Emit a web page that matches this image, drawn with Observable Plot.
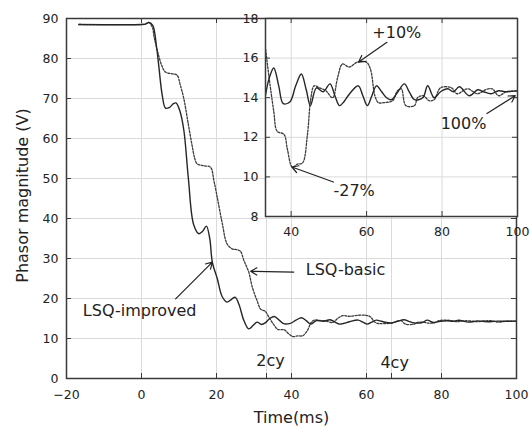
<!DOCTYPE html>
<html><head><meta charset="utf-8">
<script src="https://cdn.jsdelivr.net/npm/d3@7"></script>
<script src="https://cdn.jsdelivr.net/npm/@observablehq/plot@0.6"></script>
<style>
body{margin:0;background:#fff;}
#wrap{position:relative;width:530px;height:427px;overflow:hidden;background:#fff;}
#main{position:absolute;left:0;top:0;}
#inset{position:absolute;left:230px;top:8px;}
svg{overflow:visible;}
</style></head><body><div id="wrap"><div id="main"></div><div id="inset"></div></div>
<script>
// ---- data ----
const timeImproved = [-16.7,0,1,2,3,4,4.6,5.5,6.4,7.5,8.5,9.2,10.2,11.3,12.5,13.9,15.3,16.3,17.3,18.2,18.9,20.2,21.5,22.8,24,25,26,27.3,28.6,29.8,30.8,32,33,34.2,35.4,36.7,37.9,39.7,41.2,42.7,44,45.1,46.7,48.5,50.3,51.6,52.8,54,55.5,57.8,59,60.2,61.4,62.6,64,65.3,66.6,68.3,70,71.3,72.7,74.9,76.2,77.9,79.6,81.5,83,84.6,87.2,89.5,91,93,95,97,100];
const valImproved = [88.5,88.5,88.6,89.0,88.3,83,78.2,71,67.6,67.8,68.7,68.9,67,62,50,38.5,36.2,36.8,38.1,35,29,25,20.5,19.1,19.8,20.3,18.5,14.5,12.4,13.3,14.1,13.5,13.9,15.0,15.5,14.6,13.7,13.8,14.6,15.2,14.4,13.6,14.5,14.3,14.7,14.1,13.6,13.8,14.2,14.6,14.1,13.6,14.1,14.6,14.3,14.0,13.9,14.3,14.7,14.3,13.9,14.0,14.6,14.0,14.3,14.45,14.3,14.55,14.1,14.4,14.3,14.2,14.35,14.3,14.35];
const timeBasic = [-16.7,0,1,2,3,3.3,4.5,5.5,6.4,8,9.5,10.3,11.3,12.4,13.5,14.2,14.8,16.5,18.4,19.3,20.2,21.5,22.8,24.2,25.5,26.4,27.3,28.6,29.5,30.8,31.8,33,34.1,35.4,36.3,38.1,39,40.3,41.7,43,44.3,45.2,46.1,47.5,49.2,51,52.3,53.6,55.4,57.6,59.9,61,62.2,63.1,64.5,66.9,68.2,69.2,70.4,72.7,73.5,75,76.6,77.9,79.6,82.5,84,86.7,89.4,91.5,93.3,95,97,100];
const valBasic = [88.5,88.5,88.6,89.0,87.5,85.7,81,78,76.6,76.2,75.8,73.5,69.9,64,58.2,55,53.7,53.2,52.8,49.5,45.3,39,33.7,32.4,32.2,31.8,29.5,26.6,23,19.5,17.3,16.8,15.1,13.3,12.3,12.15,11.4,10.5,10.65,10.7,12.1,13.95,14.6,14.5,14.35,14.0,15.0,15.7,15.55,15.8,15.8,15.45,14.1,13.75,13.75,13.85,14.35,14.45,13.6,13.6,14.0,14.1,13.85,13.9,14.5,14.5,14.2,14.45,14.2,14.4,14.45,14.1,14.3,14.35];

const xTicks = [-20,0,20,40,60,80,100];
const cycleTicks = [100/3, 200/3];          // 2cy, 4cy markers
const yTicks = [0,10,20,30,40,50,60,70,80,90];
const insetXTicks = [40,60,80,100];
const insetYTicks = [8,10,12,14,16,18];

const mainLabels = ["LSQ-improved","LSQ-basic","2cy","4cy"];
const mainLabelX = [-0.5,54.4,34.4,67.5];
const mainLabelY = [17,27.2,4.5,3.8];
const mainArrowX1 = [9.1,40.6], mainArrowY1 = [19.9,26.6];
const mainArrowX2 = [18.9,29.1], mainArrowY2 = [29.1,26.8];

const insetLabels = ["+10%","-27%","100%"];
const insetLabelX = [68.0,56.7,85.7];
const insetLabelY = [17.29,9.31,12.68];
const insetArrowX1 = [65.4,51.2,91.9], insetArrowY1 = [16.8,9.74,13.2];
const insetArrowX2 = [57.9,40.2,99.4], insetArrowY2 = [15.8,10.5,14.1];

// ---- tables ----
const improved = timeImproved.map((t,i)=>({t, v: valImproved[i]}));
const basic = timeBasic.map((t,i)=>({t, v: valBasic[i]}));
const mainText = mainLabels.map((s,i)=>({s, x: mainLabelX[i], y: mainLabelY[i]}));
const mainArrows = mainArrowX1.map((x1,i)=>({x1, y1: mainArrowY1[i], x2: mainArrowX2[i], y2: mainArrowY2[i]}));
const insetText = insetLabels.map((s,i)=>({s, x: insetLabelX[i], y: insetLabelY[i]}));
const insetArrows = insetArrowX1.map((x1,i)=>({x1, y1: insetArrowY1[i], x2: insetArrowX2[i], y2: insetArrowY2[i]}));

const FONT = "DejaVu Sans";
const gridColor = "#dadada";
const ink = "#222";
const frameColor = "#3a3a3a";
const dashStyle = {stroke: "#3c3c3c", strokeWidth: 1.3, strokeDasharray: "2,1.5"};
const solidStyle = {stroke: "#262626", strokeWidth: 1.4};

// ---- main plot ----
const W = 530, H = 427, mL = 66, mR = 14, mT = 18, mB = 49;
const pH = H - mT - mB;
const main = Plot.plot({
  width: W, height: H,
  marginLeft: mL, marginRight: mR, marginTop: mT, marginBottom: mB,
  x: {domain: [-20, 100], label: null},
  y: {domain: [0, 90], label: null},
  style: {fontFamily: FONT, fontSize: "12.5px", color: ink, background: "transparent", overflow: "visible"},
  marks: [
    Plot.gridX(xTicks.concat(cycleTicks), {stroke: gridColor, strokeOpacity: 1}),
    Plot.gridY(yTicks, {stroke: gridColor, strokeOpacity: 1}),
    Plot.line(basic, {x: "t", y: "v", curve: "catmull-rom", ...dashStyle}),
    Plot.line(improved, {x: "t", y: "v", curve: "catmull-rom", ...solidStyle}),
    Plot.arrow(mainArrows, {x1: "x1", y1: "y1", x2: "x2", y2: "y2", stroke: ink, strokeWidth: 1.2, headLength: 9}),
    Plot.text(mainText, {x: "x", y: "y", text: "s", fontSize: 16, fill: ink, lineAnchor: "middle"}),
    Plot.frame({stroke: frameColor, strokeWidth: 1.5}),
    Plot.ruleX(xTicks.concat(cycleTicks), {stroke: frameColor, insetTop: pH - 5}),
    Plot.ruleX(xTicks, {stroke: frameColor, insetBottom: pH - 5}),
    Plot.ruleY(yTicks, {stroke: frameColor, insetRight: (W - mL - mR) - 5}),
    Plot.ruleY(yTicks, {stroke: frameColor, insetLeft: (W - mL - mR) - 5}),
    Plot.axisX({ticks: xTicks, tickSize: 0, tickPadding: 12, label: null, fontSize: 12.5}),
    Plot.axisY({ticks: yTicks, tickSize: 0, tickPadding: 8, label: null, fontSize: 12.5}),
    Plot.text(["Time(ms)"], {frameAnchor: "bottom", dy: 39, fontSize: 16, fill: ink, textAnchor: "middle", lineAnchor: "middle"}),
    Plot.text(["Phasor magnitude (V)"], {frameAnchor: "left", dx: -44, dy: -3, rotate: -90, fontSize: 16, fill: ink, textAnchor: "middle", lineAnchor: "middle"})
  ]
});
document.getElementById("main").appendChild(main);

// ---- inset plot ----
const iW = 299, iH = 233, iL = 35, iR = 12, iT = 10, iB = 25;
const ipW = iW - iL - iR, ipH = iH - iT - iB;
const inset = Plot.plot({
  width: iW, height: iH,
  marginLeft: iL, marginRight: iR, marginTop: iT, marginBottom: iB,
  x: {domain: [33.2, 100], label: null},
  y: {domain: [8, 18], label: null},
  style: {fontFamily: FONT, fontSize: "12.5px", color: ink, background: "transparent", overflow: "visible"},
  marks: [
    Plot.frame({fill: "white", stroke: "none"}),
    Plot.gridX(insetXTicks, {stroke: gridColor, strokeOpacity: 1}),
    Plot.gridY(insetYTicks, {stroke: gridColor, strokeOpacity: 1}),
    Plot.line(basic.filter(d => d.t >= 33), {x: "t", y: "v", curve: "catmull-rom", ...dashStyle, clip: true}),
    Plot.line(improved.filter(d => d.t >= 33), {x: "t", y: "v", curve: "catmull-rom", ...solidStyle, clip: true}),
    Plot.arrow(insetArrows, {x1: "x1", y1: "y1", x2: "x2", y2: "y2", stroke: ink, strokeWidth: 1.2, headLength: 9}),
    Plot.text(insetText, {x: "x", y: "y", text: "s", fontSize: 16, fill: ink, lineAnchor: "middle"}),
    Plot.frame({stroke: frameColor, strokeWidth: 1.5}),
    Plot.ruleX(insetXTicks, {stroke: frameColor, insetTop: ipH - 5}),
    Plot.ruleX(insetXTicks, {stroke: frameColor, insetBottom: ipH - 5}),
    Plot.ruleY(insetYTicks, {stroke: frameColor, insetRight: ipW - 5}),
    Plot.ruleY(insetYTicks, {stroke: frameColor, insetLeft: ipW - 5}),
    Plot.axisX({ticks: insetXTicks, tickSize: 0, tickPadding: 11, label: null, fontSize: 12.5}),
    Plot.axisY({ticks: insetYTicks, tickSize: 0, tickPadding: 7, label: null, fontSize: 12.5})
  ]
});
document.getElementById("inset").appendChild(inset);
</script></body></html>
